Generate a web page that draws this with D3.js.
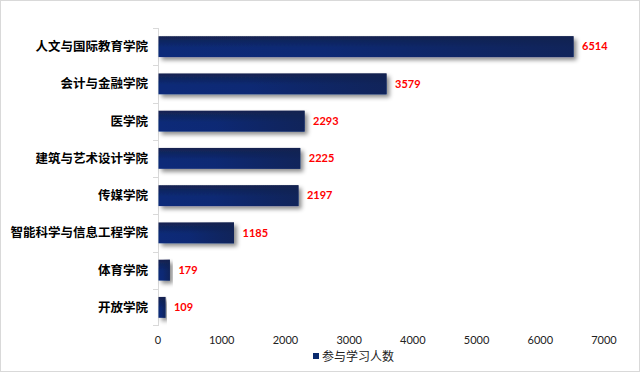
<!DOCTYPE html>
<html><head><meta charset="utf-8">
<script src="https://cdn.jsdelivr.net/npm/d3@7"></script>
<style>body{margin:0;background:#fff}svg{display:block}</style>
</head><body>
<svg id="c" width="640" height="372"></svg>
<script>
const categories = ["人文与国际教育学院","会计与金融学院","医学院","建筑与艺术设计学院","传媒学院","智能科学与信息工程学院","体育学院","开放学院"];
const values = [6514,3579,2293,2225,2197,1185,179,109];
const xTicks = [0,1000,2000,3000,4000,5000,6000,7000];
const seriesName = "参与学习人数";

const svg = d3.select("#c");
svg.append("rect").attr("x",0.5).attr("y",0.5).attr("width",639).attr("height",371)
  .attr("fill","#fff").attr("stroke","#d9d9d9");

const defs = svg.append("defs");
const gv = defs.append("linearGradient").attr("id","gv").attr("x1",0).attr("y1",0).attr("x2",0).attr("y2",1);
gv.append("stop").attr("offset","0%").attr("stop-color","#15234f");
gv.append("stop").attr("offset","55%").attr("stop-color","#0a2a78");
gv.append("stop").attr("offset","100%").attr("stop-color","#0b2b7a");
const gh = defs.append("linearGradient").attr("id","gh").attr("x1",0).attr("y1",0).attr("x2",1).attr("y2",0);
gh.append("stop").attr("offset","0%").attr("stop-color","#101f4a").attr("stop-opacity",0);
gh.append("stop").attr("offset","40%").attr("stop-color","#101f4a").attr("stop-opacity",0.1);
gh.append("stop").attr("offset","100%").attr("stop-color","#122250").attr("stop-opacity",0.75);
const f = defs.append("filter").attr("id","sh").attr("x","-10%").attr("y","-30%").attr("width","130%").attr("height","190%");
f.append("feDropShadow").attr("dx",3).attr("dy",3).attr("stdDeviation",2).attr("flood-color","#000").attr("flood-opacity",0.45);

const x = d3.scaleLinear().domain([0,7000]).range([158,604]);
const y = d3.scaleBand().domain(categories).range([28,326]).paddingInner(0.44).paddingOuter(0.22);
const yb = d3.scaleBand().domain(categories).range([28,326]);

// axis line and ticks
const ax = svg.append("g").attr("stroke","#d9d9d9");
ax.append("line").attr("x1",158.5).attr("x2",158.5).attr("y1",28).attr("y2",326);
categories.forEach((c,i)=>{
  ax.append("line").attr("x1",153).attr("x2",158.5).attr("y1",Math.round(yb(c))+0.5).attr("y2",Math.round(yb(c))+0.5);
});
ax.append("line").attr("x1",153).attr("x2",158.5).attr("y1",325.5).attr("y2",325.5);

// bars
const bars = svg.append("g");
categories.forEach((c,i)=>{
  const g = bars.append("g");
  g.append("rect").attr("x",x(0)+0.5).attr("y",y(c)).attr("width",x(values[i])-x(0)).attr("height",y.bandwidth())
    .attr("fill","url(#gv)").attr("filter","url(#sh)");
  g.append("rect").attr("x",x(0)+0.5).attr("y",y(c)).attr("width",x(values[i])-x(0)).attr("height",y.bandwidth())
    .attr("fill","url(#gh)");
  svg.append("text").attr("x",x(values[i])+9).attr("y",y(c)+y.bandwidth()/2).attr("dy","0.35em")
    .attr("fill","#ff0000").attr("font-family","Lato, 'Liberation Sans', sans-serif").attr("font-weight","bold")
    .attr("font-size",11).text(values[i]);
  svg.append("text").attr("x",148).attr("y",y(c)+y.bandwidth()/2).attr("dy","0.36em").attr("text-anchor","end")
    .attr("fill","#000").attr("font-family","'Noto Sans CJK SC', sans-serif").attr("font-weight","bold")
    .attr("font-size",12.5).text(c);
});

// x tick labels
xTicks.forEach(t=>{
  svg.append("text").attr("x",x(t)).attr("y",340).attr("dy","0.35em").attr("text-anchor","middle")
    .attr("fill","#222").attr("font-family","Lato, 'Liberation Sans', sans-serif").attr("font-size",11).text(t);
});

// legend
svg.append("rect").attr("x",313).attr("y",353).attr("width",6).attr("height",6).attr("fill","#0a2a6e");
svg.append("text").attr("x",322).attr("y",357).attr("dy","0.35em").attr("fill","#222")
  .attr("font-family","'Noto Sans CJK SC', sans-serif").attr("font-size",12).text(seriesName);
</script>
</body></html>
